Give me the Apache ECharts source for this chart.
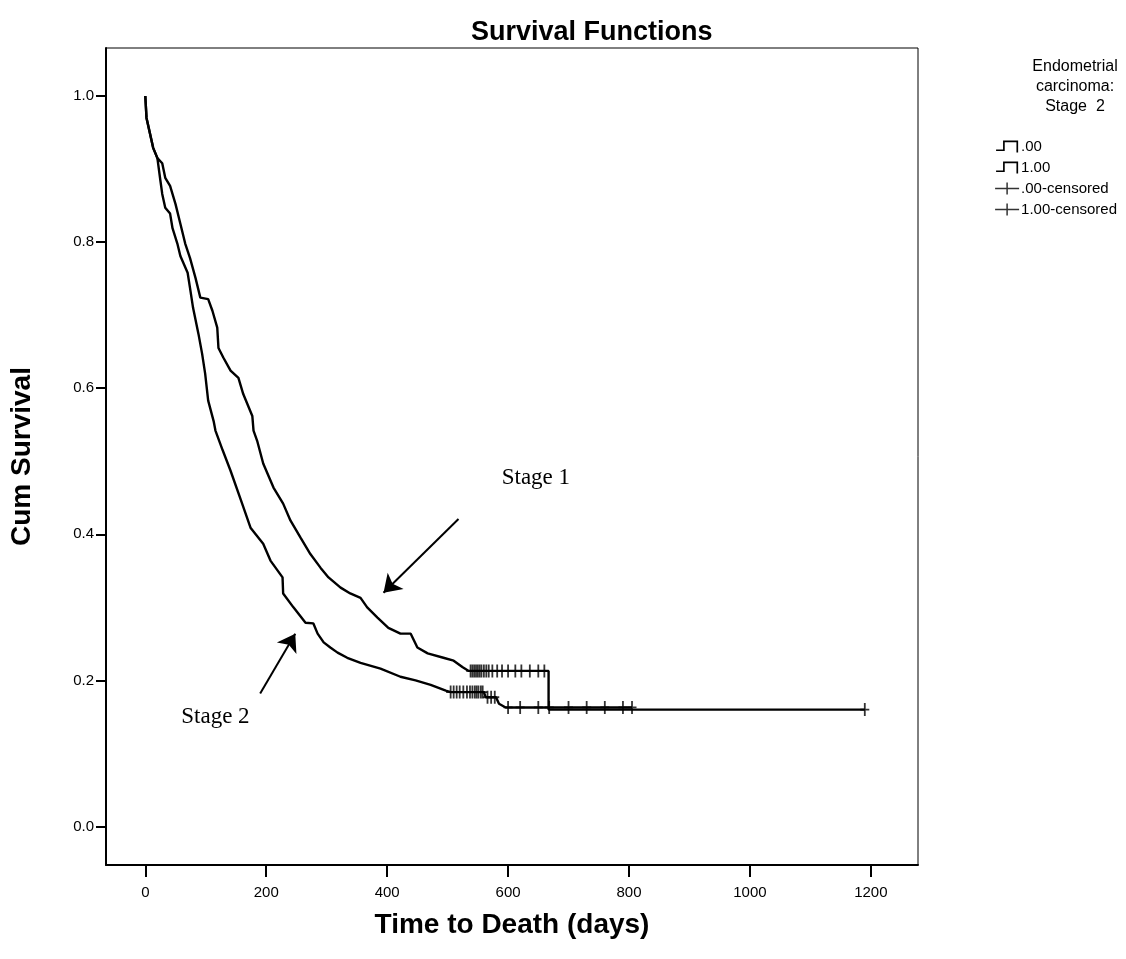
<!DOCTYPE html>
<html><head><meta charset="utf-8">
<script src="https://cdn.jsdelivr.net/npm/echarts@6/dist/echarts.min.js"></script>
<style>html,body{margin:0;padding:0;background:#fff}#c{width:1126px;height:959px}</style>
</head><body><div id="c"></div>
<script>
// ---- data ----
const xTicks = [0, 200, 400, 600, 800, 1000, 1200];
const yTicks = [0, 0.2, 0.4, 0.6, 0.8, 1.0];

// Stage 1 (".00") survival curve, traced
const s1Time = [0, 2, 13, 20, 28, 33, 41, 50, 58, 66, 74, 83, 91, 104, 111, 119, 121, 129, 141, 154, 162, 177, 179, 185, 195, 212, 228, 240, 257, 273, 290, 303, 323, 339, 356, 367, 384, 402, 422, 439, 450, 467, 493, 510, 525, 535, 667, 667, 1190];
const s1Surv = [1.0, 0.97, 0.929, 0.915, 0.908, 0.888, 0.877, 0.852, 0.825, 0.798, 0.778, 0.751, 0.724, 0.722, 0.706, 0.683, 0.655, 0.642, 0.624, 0.614, 0.592, 0.562, 0.542, 0.528, 0.497, 0.464, 0.442, 0.419, 0.395, 0.373, 0.354, 0.341, 0.327, 0.319, 0.313, 0.300, 0.286, 0.272, 0.264, 0.264, 0.245, 0.237, 0.231, 0.227, 0.218, 0.213, 0.213, 0.160, 0.160];

// Stage 2 ("1.00") survival curve, traced
const s2Time = [0, 2, 13, 20, 25, 28, 33, 41, 45, 53, 58, 70, 74, 79, 88, 94, 99, 104, 113, 116, 128, 141, 158, 174, 195, 207, 227, 228, 245, 265, 278, 285, 295, 306, 318, 334, 356, 389, 422, 447, 472, 497, 505, 560, 563, 580, 585, 596, 805];
const s2Surv = [1.0, 0.97, 0.929, 0.915, 0.884, 0.866, 0.847, 0.839, 0.819, 0.798, 0.781, 0.758, 0.737, 0.710, 0.674, 0.647, 0.620, 0.583, 0.555, 0.542, 0.515, 0.487, 0.447, 0.409, 0.387, 0.364, 0.341, 0.319, 0.300, 0.279, 0.278, 0.264, 0.252, 0.245, 0.238, 0.231, 0.224, 0.216, 0.205, 0.200, 0.194, 0.186, 0.184, 0.184, 0.177, 0.177, 0.168, 0.163, 0.163];

// censored observations
const c1Time = [538, 541, 544, 547, 550, 553, 556, 560, 564, 568, 574, 582, 590, 600, 612, 622, 636, 650, 660, 1190];
const c1Surv = [0.213, 0.213, 0.213, 0.213, 0.213, 0.213, 0.213, 0.213, 0.213, 0.213, 0.213, 0.213, 0.213, 0.213, 0.213, 0.213, 0.213, 0.213, 0.213, 0.160];
const c2Time = [505, 510, 515, 520, 526, 532, 537, 541, 545, 548, 551, 555, 558, 566, 572, 578, 600, 620, 650, 668, 700, 730, 760, 790, 805];
const c2Surv = [0.184, 0.184, 0.184, 0.184, 0.184, 0.184, 0.184, 0.184, 0.184, 0.184, 0.184, 0.184, 0.184, 0.177, 0.177, 0.177, 0.163, 0.163, 0.163, 0.163, 0.163, 0.163, 0.163, 0.163, 0.163];

const seriesNames = ['.00', '1.00', '.00-censored', '1.00-censored'];
const legendTitle = 'Endometrial\ncarcinoma:\nStage  2';
const annotations = [
  { name: 'Stage 1', at: [646, 0.477], arrowFrom: [518, 0.421], arrowTo: [394, 0.320] },
  { name: 'Stage 2', at: [116, 0.150], arrowFrom: [190, 0.182], arrowTo: [248, 0.264] }
];

// ---- build chart ----
const zip = (a, b) => a.map((v, i) => [v, b[i]]);
const SANS = 'Liberation Sans, Arial, sans-serif';
const SERIF = 'Liberation Serif, Times New Roman, serif';
const plusSym = 'path://M4,0H6V14H4Z M0,6H10V8H0Z';
const stepIcon = 'path://M0,9.25H6.25V1.25H19.75V12H18.25V2.75H7.75V10.75H0Z';
const censIcon = 'path://M0,5.25H24V6.75H0Z M11.25,0H12.75V12H11.25Z';

const chart = echarts.init(document.getElementById('c'), null, { renderer: 'canvas' });
chart.setOption({
  animation: false,
  backgroundColor: '#fff',
  title: {
    text: 'Survival Functions', left: 466, top: 14,
    textStyle: { fontFamily: SANS, fontSize: 27, fontWeight: 'bold', color: '#000' }
  },
  grid: { left: 106, right: 208, top: 48, bottom: 94, show: true, borderColor: '#000', borderWidth: 1 },
  legend: {
    orient: 'vertical', right: 9, top: 139, itemWidth: 24, itemHeight: 12, itemGap: 6, padding: 0,
    selectedMode: false,
    itemStyle: { borderWidth: 0 },
    textStyle: { fontFamily: SANS, fontSize: 15, color: '#000', padding: [0, 0, 0, -3] },
    data: [
      { name: seriesNames[0], icon: stepIcon },
      { name: seriesNames[1], icon: stepIcon },
      { name: seriesNames[2], icon: censIcon },
      { name: seriesNames[3], icon: censIcon }
    ]
  },
  graphic: [{
    type: 'text', x: 1075, y: 57,
    style: { text: legendTitle, textAlign: 'center', textVerticalAlign: 'top', fill: '#000',
      font: '16px ' + SANS, lineHeight: 20 }
  }],
  xAxis: {
    type: 'value', min: -65, max: 1278,
    name: 'Time to Death (days)', nameLocation: 'middle', nameGap: 46,
    nameTextStyle: { fontFamily: SANS, fontSize: 28, fontWeight: 'bold', color: '#000' },
    axisLine: { show: true, onZero: false, lineStyle: { color: '#000', width: 2 } },
    axisTick: { show: true, length: 12, lineStyle: { color: '#000', width: 2 }, customValues: xTicks },
    axisLabel: { customValues: xTicks, margin: 20, fontFamily: SANS, fontSize: 15, color: '#000',
      formatter: v => String(v) },
    splitLine: { show: false }
  },
  yAxis: {
    type: 'value', min: -0.0527, max: 1.0657,
    name: 'Cum Survival', nameLocation: 'middle', nameGap: 70, nameRotate: 90,
    nameTextStyle: { fontFamily: SANS, fontSize: 28, fontWeight: 'bold', color: '#000' },
    axisLine: { show: true, onZero: false, lineStyle: { color: '#000', width: 2 } },
    axisTick: { show: true, length: 10, lineStyle: { color: '#000', width: 2 }, customValues: yTicks },
    axisLabel: { customValues: yTicks, margin: 12, fontFamily: SANS, fontSize: 15, color: '#000',
      formatter: v => v.toFixed(1) },
    splitLine: { show: false }
  },
  series: [
    {
      name: seriesNames[0], type: 'line', showSymbol: false, symbol: 'none',
      data: zip(s1Time, s1Surv), lineStyle: { color: '#000', width: 2.4 }, itemStyle: { color: '#000' },
      z: 3,
      markLine: {
        silent: true, symbol: ['none', 'arrow'], symbolSize: 17, animation: false,
        lineStyle: { color: '#000', width: 2, type: 'solid' }, label: { show: false },
        data: annotations.map(a => [{ coord: a.arrowFrom }, { coord: a.arrowTo }])
      },
      markPoint: {
        silent: true, symbol: 'circle', symbolSize: 0, animation: false,
        label: { show: true, position: 'inside', formatter: '{b}', fontFamily: SERIF, fontSize: 23, color: '#000' },
        data: annotations.map(a => ({ name: a.name, coord: a.at }))
      }
    },
    {
      name: seriesNames[1], type: 'line', showSymbol: false, symbol: 'none',
      data: zip(s2Time, s2Surv), lineStyle: { color: '#000', width: 2.4 }, itemStyle: { color: '#000' }, z: 3
    },
    {
      name: seriesNames[2], type: 'scatter', symbol: plusSym, symbolSize: [9, 13],
      data: zip(c1Time, c1Surv), itemStyle: { color: '#000' }, z: 4
    },
    {
      name: seriesNames[3], type: 'scatter', symbol: plusSym, symbolSize: [9, 13],
      data: zip(c2Time, c2Surv), itemStyle: { color: '#000' }, z: 4
    }
  ]
});
</script>
</body></html>
